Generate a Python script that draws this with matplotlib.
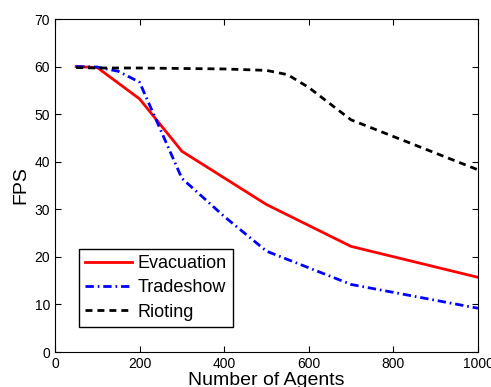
import matplotlib
matplotlib.use('Agg')
import matplotlib.pyplot as plt

plt.rcParams['font.family'] = ['Liberation Sans', 'DejaVu Sans']

# Werte
evac_x = [50, 100, 200, 300, 500, 700, 1000]
evac_y = [60.0, 59.8, 53.2, 42.2, 31.0, 22.2, 15.7]

trade_x = [50, 100, 150, 200, 300, 400, 500, 700, 1000]
trade_y = [60.0, 59.9, 59.0, 56.7, 36.5, 28.5, 21.2, 14.2, 9.2]

riot_x = [50, 100, 200, 300, 400, 500, 550, 600, 700, 1000]
riot_y = [59.8, 59.7, 59.7, 59.6, 59.5, 59.2, 58.3, 55.6, 48.8, 38.3]

fig = plt.figure(figsize=(4.91, 3.87), dpi=100)
ax = fig.add_axes([0.112, 0.0904, 0.8615, 0.8605])

ax.plot(evac_x, evac_y, '-', color='#ff0000', lw=2, label='Evacuation')
ax.plot(trade_x, trade_y, color='#0000ff', lw=2, dashes=[3, 1.4, 0.6, 1.4],
        label='Tradeshow')
ax.plot(riot_x, riot_y, color='black', lw=2, dashes=[2.5, 1.8], label='Rioting')

ax.set_xlim(0, 1000)
ax.set_ylim(0, 70)
ax.set_xticks(range(0, 1001, 200))
ax.set_yticks(range(0, 71, 10))
ax.tick_params(direction='in', top=True, right=True, labelsize=10, length=4)
ax.set_xlabel('Number of Agents', fontsize=14, labelpad=1)
ax.set_ylabel('FPS', fontsize=14, labelpad=4)

leg = ax.legend(loc='lower left', bbox_to_anchor=(0.057, 0.075), fontsize=13,
                fancybox=False, edgecolor='black', framealpha=1,
                handlelength=2.6, handletextpad=0.3, borderpad=0.35,
                labelspacing=0.4, borderaxespad=0)
leg.get_frame().set_linewidth(1)

fig.savefig('out.png', dpi=100)
